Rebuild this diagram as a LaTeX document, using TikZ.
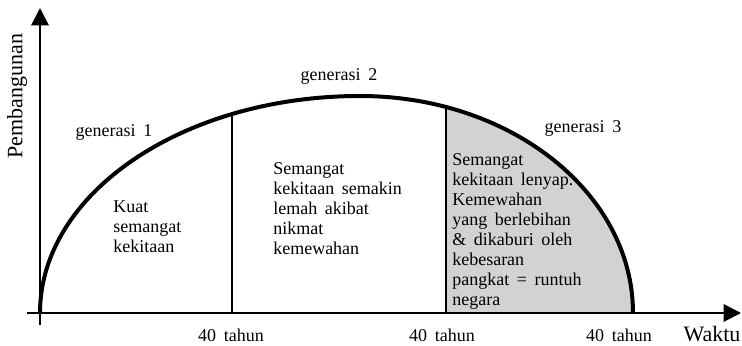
\documentclass[tikz,border=0pt]{standalone}
\usepackage{fontspec}
\setmainfont{Liberation Serif}
\usetikzlibrary{arrows.meta, positioning}
\newcommand\hurufteks{\fontsize{13.5}{15}\selectfont\spaceskip=0.42em\relax}
\newcommand\hurufsumbu{\fontsize{16.5}{18}\selectfont\spaceskip=0.42em\relax}

\begin{document}
\begin{tikzpicture}[x=0.75pt, y=0.75pt, font=\hurufteks,
    sumbu/.style={line width=1.5pt, -{Triangle[length=13pt, width=13pt]}},
    batas/.style={line width=1.1pt},
    ket/.style={align=left, inner sep=0pt, anchor=north west}]
    \useasboundingbox (0,0) rectangle (742,346);
    \coordinate (O) at (40,33);
    \coordinate (b1) at (232,33);
    \coordinate (b2) at (446,33);
    \coordinate (a1) at (232,232);
    \coordinate (a2) at (446,239);
    % 第三代阴影
    \fill[gray!35] (b2) -- (a2) arc[start angle=71.64, end angle=0, x radius=273, y radius=217] -- cycle;
    % 分隔线
    \draw[batas] (b1) -- (a1);
    \draw[batas] (b2) -- (a2);
    % 坐标轴
    \draw[sumbu] (40,21) -- (40,338);
    \draw[sumbu] (27,33) -- (741,33);
    % 曲线
    \draw[line width=3pt] (O) arc[start angle=180, end angle=90, x radius=320, y radius=217]
        arc[start angle=90, end angle=0, x radius=273, y radius=217];
    % 轴标签
    \node[rotate=90, font=\hurufsumbu] (pemb) at (17,250) {Pembangunan};
    \node[anchor=base, font=\hurufsumbu] (waktu) at (712,4) {Waktu};
    \foreach \x [count=\i] in {231,442,619} {
        \node[anchor=base] (t\i) at (\x,4) {40 tahun};
    }
    % 各代
    \node[anchor=base] (gen1) at (114,209) {generasi 1};
    \node[anchor=base] (gen2) at (339,265) {generasi 2};
    \node[anchor=base] (gen3) at (583,213) {generasi 3};
    % 说明
    \node[ket] (k1) at (113,146) {Kuat\\semangat\\kekitaan};
    \node[ket] (k2) at (273,184) {Semangat\\kekitaan semakin\\lemah akibat\\nikmat\\kemewahan};
    \node[ket] (k3) at (452,193) {Semangat\\kekitaan lenyap.\\Kemewahan\\yang berlebihan\\\& dikaburi oleh\\kebesaran\\pangkat = runtuh\\negara};
\end{tikzpicture}
\end{document}
